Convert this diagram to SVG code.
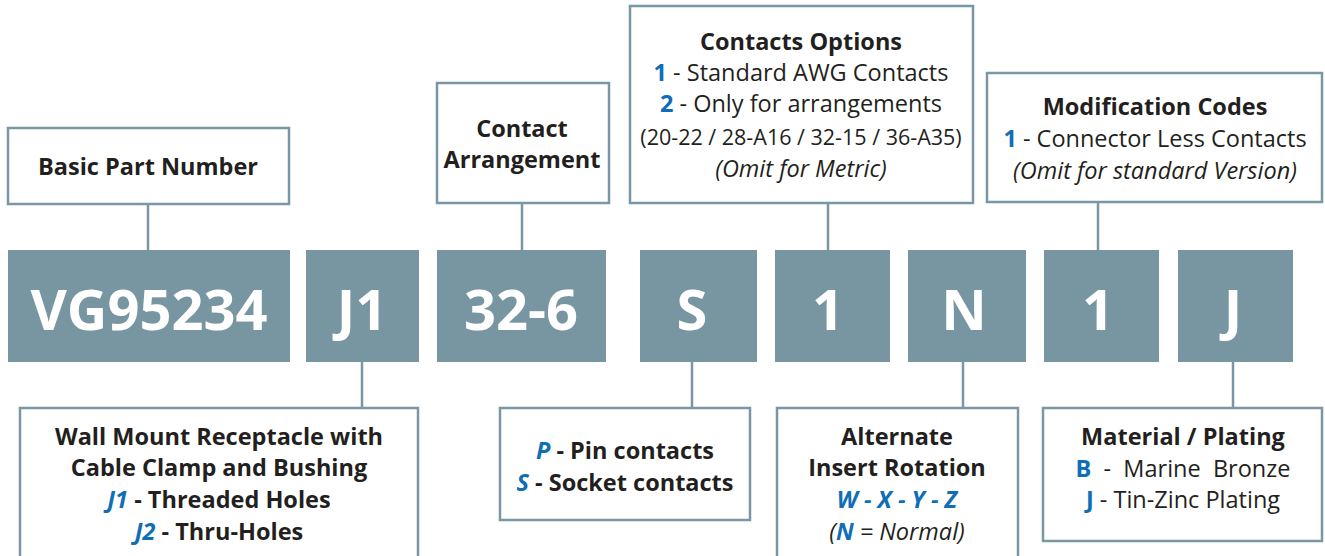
<svg xmlns="http://www.w3.org/2000/svg" width="1325" height="556" viewBox="0 0 1325 556">
<style>
.box{fill:#fff;stroke:#7a97a5;stroke-width:2.5}
.code{fill:#7895a2}
.ct{font-family:"Open Sans","Noto Sans",sans-serif;font-weight:700;font-size:56px;fill:#fff;text-anchor:middle}
.t{font-family:"Open Sans","Noto Sans",sans-serif;font-size:23.5px;fill:#231f20;text-anchor:middle}
.b{font-weight:700}
.i{font-style:italic}
.bl{fill:#0f6eb5;font-weight:700}
.c{stroke:#7a97a5;stroke-width:2.5;fill:none}
</style>
<g id="connectors">
<line class="c" x1="148" y1="204" x2="148" y2="250"/>
<line class="c" x1="522" y1="203" x2="522" y2="250"/>
<line class="c" x1="828" y1="203" x2="828" y2="250"/>
<line class="c" x1="1098" y1="202" x2="1098" y2="250"/>
<line class="c" x1="362" y1="362" x2="362" y2="408"/>
<line class="c" x1="692" y1="362" x2="692" y2="408"/>
<line class="c" x1="963" y1="362" x2="963" y2="408"/>
<line class="c" x1="1233" y1="362" x2="1233" y2="408"/>
</g>
<g id="code-vg95234"><rect class="code" x="8" y="250" width="282" height="112"/><text class="ct" x="149" y="330">VG95234</text></g>
<g id="code-j1"><rect class="code" x="306" y="250" width="113" height="112"/><text class="ct" x="362" y="330">J1</text></g>
<g id="code-32-6"><rect class="code" x="437" y="250" width="169" height="112"/><text class="ct" x="521" y="330">32-6</text></g>
<g id="code-s"><rect class="code" x="640" y="250" width="117" height="112"/><text class="ct" x="692" y="330">S</text></g>
<g id="code-1a"><rect class="code" x="775" y="250" width="115" height="112"/><text class="ct" x="828" y="330">1</text></g>
<g id="code-n"><rect class="code" x="908" y="250" width="118" height="112"/><text class="ct" x="964" y="330">N</text></g>
<g id="code-1b"><rect class="code" x="1044" y="250" width="115" height="112"/><text class="ct" x="1098" y="330">1</text></g>
<g id="code-j"><rect class="code" x="1178" y="250" width="115" height="112"/><text class="ct" x="1233" y="330">J</text></g>

<g id="basic-part-number"><rect class="box" x="8" y="128" width="281" height="76"/><text class="t b" x="148" y="175">Basic Part Number</text></g>
<g id="contact-arrangement"><rect class="box" x="437" y="83" width="172" height="120"/><text class="t b" x="522" y="137">Contact</text><text class="t b" x="522" y="168">Arrangement</text></g>
<g id="contacts-options"><rect class="box" x="630" y="6" width="343" height="197"/>
<text class="t b" x="801" y="50">Contacts Options</text>
<text class="t" x="801" y="81"><tspan class="bl">1</tspan> - Standard AWG Contacts</text>
<text class="t" x="801" y="112"><tspan class="bl">2</tspan> - Only for arrangements</text>
<text class="t" x="801" y="145" style="font-size:21.5px">(20-22 / 28-A16 / 32-15 / 36-A35)</text>
<text class="t i" x="801" y="177">(Omit for Metric)</text></g>
<g id="modification-codes"><rect class="box" x="987" y="73" width="335" height="129"/>
<text class="t b" x="1155" y="115">Modification Codes</text>
<text class="t" x="1155" y="147"><tspan class="bl">1</tspan> - Connector Less Contacts</text>
<text class="t i" x="1155" y="179">(Omit for standard Version)</text></g>

<g id="shell-style"><rect class="box" x="20" y="408" width="398" height="160"/>
<text class="t b" x="219" y="445">Wall Mount Receptacle with</text>
<text class="t b" x="219" y="476">Cable Clamp and Bushing</text>
<text class="t b" x="219" y="508"><tspan class="bl i">J1</tspan> - Threaded Holes</text>
<text class="t b" x="219" y="540"><tspan class="bl i">J2</tspan> - Thru-Holes</text></g>
<g id="contact-type"><rect class="box" x="500" y="408" width="250" height="112"/>
<text class="t b" x="625" y="459"><tspan class="bl i">P</tspan> - Pin contacts</text>
<text class="t b" x="625" y="491"><tspan class="bl i">S</tspan> - Socket contacts</text></g>
<g id="insert-rotation"><rect class="box" x="777" y="408" width="241" height="160"/>
<text class="t b" x="897" y="445">Alternate</text>
<text class="t b" x="897" y="476">Insert Rotation</text>
<text class="t bl i" x="897" y="508">W - X - Y - Z</text>
<text class="t i" x="897" y="540">(<tspan class="bl">N</tspan> = Normal)</text></g>
<g id="material-plating"><rect class="box" x="1043" y="408" width="279" height="133"/>
<text class="t b" x="1183" y="445">Material / Plating</text>
<text class="t" x="1183" y="477" style="white-space:pre"><tspan class="bl">B</tspan>  -  Marine  Bronze</text>
<text class="t" x="1183" y="508"><tspan class="bl">J</tspan> - Tin-Zinc Plating</text></g>
</svg>
